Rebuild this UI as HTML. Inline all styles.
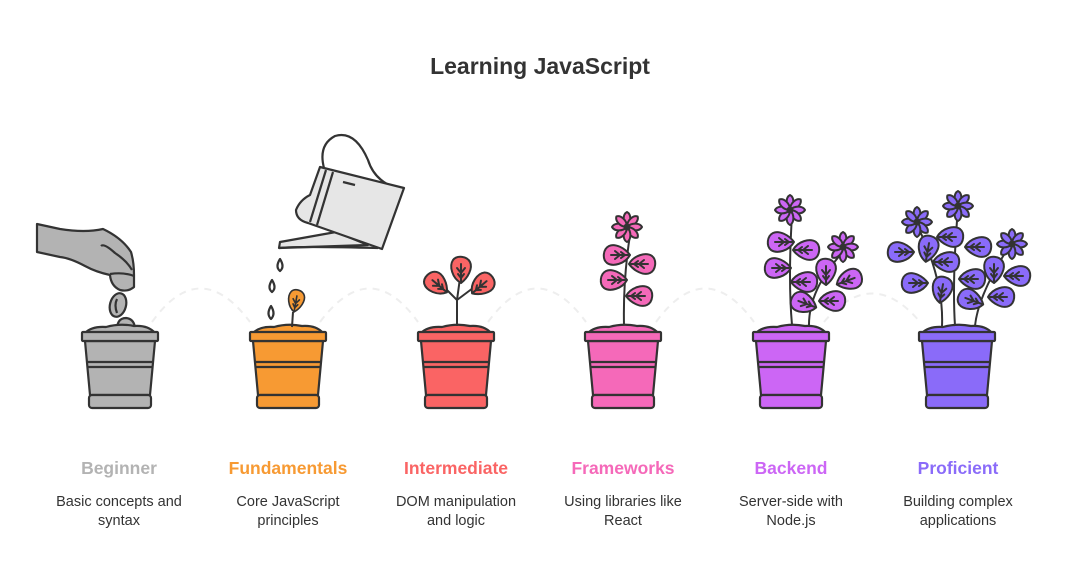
<!DOCTYPE html>
<html><head><meta charset="utf-8"><style>
html,body{margin:0;padding:0;background:#fff;}
svg{display:block;}
text{font-family:"Liberation Sans",Arial,sans-serif;}
</style></head><body>
<svg width="1080" height="588" viewBox="0 0 1080 588" xmlns="http://www.w3.org/2000/svg">
<defs>
  <g id="pot" stroke="#333" stroke-width="2.2" stroke-linejoin="round">
    <path d="M-35,333 Q-28,326 -14,327 Q0,323 14,326 Q28,325 35,333 Z"/>
    <path d="M-35,341 L35,341 L30,395 L-30,395 Z"/>
    <rect x="-38" y="332" width="76" height="9" rx="1"/>
    <line x1="-33" y1="362" x2="33" y2="362"/>
    <line x1="-33" y1="367" x2="33" y2="367"/>
    <rect x="-31" y="395" width="62" height="13" rx="3"/>
  </g>
  <g id="leaf" stroke="#333" stroke-width="2" stroke-linecap="round" stroke-linejoin="round">
    <path d="M-13,0 C-8,-9 4,-12 10,-8 C15,-4 14,6 8,9 C2,12 -8,7 -13,0 Z"/>
    <path d="M-11,0 L6,0 M-3,0 L2,-4 M-3,0 L2,4 M-8,0 L-4,-3 M-8,0 L-4,3" fill="none"/>
  </g>
  <g id="flower" stroke="#333" stroke-width="2" stroke-linejoin="round">
    <g id="petal"><path d="M0,0 C-5,-5 -4,-13 0,-15 C4,-13 5,-5 0,0 Z"/></g>
    <use href="#petal" transform="rotate(45)"/>
    <use href="#petal" transform="rotate(90)"/>
    <use href="#petal" transform="rotate(135)"/>
    <use href="#petal" transform="rotate(180)"/>
    <use href="#petal" transform="rotate(225)"/>
    <use href="#petal" transform="rotate(270)"/>
    <use href="#petal" transform="rotate(315)"/>
    <circle r="2.5" fill="#333"/>
  </g>
</defs>

<text x="540" y="74" text-anchor="middle" font-size="23" font-weight="bold" fill="#333">Learning JavaScript</text>

<g fill="none" stroke="#eee" stroke-width="2" stroke-dasharray="7 6">
  <path d="M152,322 Q200,255 250,322"/>
  <path d="M320,322 Q370,255 418,322"/>
  <path d="M488,322 Q537,255 586,322"/>
  <path d="M656,322 Q705,255 754,322"/>
  <path d="M824,322 Q872,265 920,322"/>
</g>

<!-- hand -->
<g stroke="#333" stroke-width="2.2" stroke-linejoin="round" fill="#b3b3b3">
  <path d="M37,224 L60,229 Q85,233 103,229 Q122,238 131,252 Q134,262 134,275 L134,287 Q128,292 120,290 Q111,286 110,275 Q96,272 85,266 Q70,258 60,257 L37,252 Z"/>
  <path d="M101,246 Q104,243 115,253 Q127,261 132,270" fill="none"/>
  <path d="M110,274 Q124,272 134,276" fill="none"/>
  <ellipse cx="118" cy="305" rx="8" ry="12" transform="rotate(15 118 305)"/>
  <path d="M117,299 Q114,305 117,313" fill="none"/>
  <path d="M117,333 Q116,318 126,318 Q136,319 135,333 Z"/>
  <path d="M86,333 Q98,326 114,333 Z"/>
  <path d="M136,333 Q145,327 156,333 Z"/>
</g>

<!-- watering can -->
<g stroke="#333" stroke-width="2.2" stroke-linejoin="round" fill="#e6e6e6">
  <path d="M324,168 Q318,145 335,136 Q355,130 368,160 Q373,176 387,184" fill="none"/>
  <path d="M279,248 L280,242 L336,232 L368,245 Z"/>
  <path d="M320,167 L404,188 L382,249 L308,223 Q296,220 296,210 Q300,200 310,195 Z"/>
  <path d="M326,170 L310,222 M333,172 L317,225" fill="none"/>
  <path d="M343,182 L355,185" fill="none"/>
  <path d="M279,248 Q300,246 378,248" fill="none"/>
  <path d="M280,259 Q275,267 280,271 Q285,267 280,259 Z" fill="#fff"/>
  <path d="M272,280 Q267,288 272,292 Q277,288 272,280 Z" fill="#fff"/>
  <path d="M271,306 Q266,314 271,319 Q276,314 271,306 Z" fill="#fff"/>
</g>

<use href="#pot" transform="translate(120,0)" fill="#b3b3b3"/>
<use href="#pot" transform="translate(288,0)" fill="#f79a33"/>
<use href="#pot" transform="translate(456,0)" fill="#fa6464"/>
<use href="#pot" transform="translate(623,0)" fill="#f569b9"/>
<use href="#pot" transform="translate(791,0)" fill="#cc66f5"/>
<use href="#pot" transform="translate(957,0)" fill="#8a6bf9"/>

<!-- fundamentals -->
<g stroke="#333" stroke-width="2" fill="none"><path d="M292,327 L293,312"/></g>
<g fill="#f79a33"><use href="#leaf" transform="translate(296,301) rotate(-80) scale(0.85,0.8)"/></g>

<!-- intermediate -->
<g stroke="#333" stroke-width="2" fill="none">
  <path d="M457,326 L457,300 L445,288 M457,300 L460,278 M457,300 L473,288"/>
</g>
<g fill="#fa6464">
  <use href="#leaf" transform="translate(437,284) rotate(-140)"/>
  <use href="#leaf" transform="translate(461,270) rotate(-90)"/>
  <use href="#leaf" transform="translate(482,285) rotate(-40)"/>
</g>

<!-- frameworks -->
<g stroke="#333" stroke-width="2" fill="none"><path d="M624,325 Q623,280 630,235"/></g>
<g fill="#f569b9">
  <use href="#leaf" transform="translate(617,255) rotate(180)"/>
  <use href="#leaf" transform="translate(642,264)"/>
  <use href="#leaf" transform="translate(614,280) rotate(180)"/>
  <use href="#leaf" transform="translate(639,296)"/>
  <use href="#flower" transform="translate(627,227)"/>
</g>

<!-- backend -->
<g stroke="#333" stroke-width="2" fill="none">
  <path d="M792,325 Q788,280 792,215"/>
  <path d="M809,327 Q808,290 843,252"/>
</g>
<g fill="#cc66f5">
  <use href="#leaf" transform="translate(781,242) rotate(180)"/>
  <use href="#leaf" transform="translate(806,250)"/>
  <use href="#leaf" transform="translate(778,268) rotate(180)"/>
  <use href="#leaf" transform="translate(804,282)"/>
  <use href="#leaf" transform="translate(804,303) rotate(200)"/>
  <use href="#leaf" transform="translate(826,272) rotate(-90)"/>
  <use href="#leaf" transform="translate(849,280) rotate(-20)"/>
  <use href="#leaf" transform="translate(832,301)"/>
  <use href="#flower" transform="translate(790,210)"/>
  <use href="#flower" transform="translate(843,247)"/>
</g>

<!-- proficient -->
<g stroke="#333" stroke-width="2" fill="none">
  <path d="M942,326 Q944,280 917,225"/>
  <path d="M955,326 Q952,280 958,208"/>
  <path d="M975,326 Q978,295 1010,245"/>
</g>
<g fill="#8a6bf9">
  <use href="#leaf" transform="translate(901,252) rotate(180)"/>
  <use href="#leaf" transform="translate(928,249) rotate(-80)"/>
  <use href="#leaf" transform="translate(950,237)"/>
  <use href="#leaf" transform="translate(978,247)"/>
  <use href="#leaf" transform="translate(946,262)"/>
  <use href="#leaf" transform="translate(915,283) rotate(180)"/>
  <use href="#leaf" transform="translate(942,290) rotate(-80)"/>
  <use href="#leaf" transform="translate(972,279)"/>
  <use href="#leaf" transform="translate(971,300) rotate(200)"/>
  <use href="#leaf" transform="translate(994,270) rotate(-90)"/>
  <use href="#leaf" transform="translate(1017,276)"/>
  <use href="#leaf" transform="translate(1001,297)"/>
  <use href="#flower" transform="translate(917,222)"/>
  <use href="#flower" transform="translate(958,206)"/>
  <use href="#flower" transform="translate(1012,244)"/>
</g>

<g font-size="17.5" font-weight="bold" text-anchor="middle">
  <text x="119" y="474" fill="#b3b3b3">Beginner</text>
  <text x="288" y="474" fill="#f79a33">Fundamentals</text>
  <text x="456" y="474" fill="#fa6464">Intermediate</text>
  <text x="623" y="474" fill="#f569b9">Frameworks</text>
  <text x="791" y="474" fill="#cc66f5">Backend</text>
  <text x="958" y="474" fill="#8a6bf9">Proficient</text>
</g>
<g font-size="14.5" text-anchor="middle" fill="#333">
  <text x="119" y="506">Basic concepts and</text><text x="119" y="525">syntax</text>
  <text x="288" y="506">Core JavaScript</text><text x="288" y="525">principles</text>
  <text x="456" y="506">DOM manipulation</text><text x="456" y="525">and logic</text>
  <text x="623" y="506">Using libraries like</text><text x="623" y="525">React</text>
  <text x="791" y="506">Server-side with</text><text x="791" y="525">Node.js</text>
  <text x="958" y="506">Building complex</text><text x="958" y="525">applications</text>
</g>
</svg>
</body></html>
